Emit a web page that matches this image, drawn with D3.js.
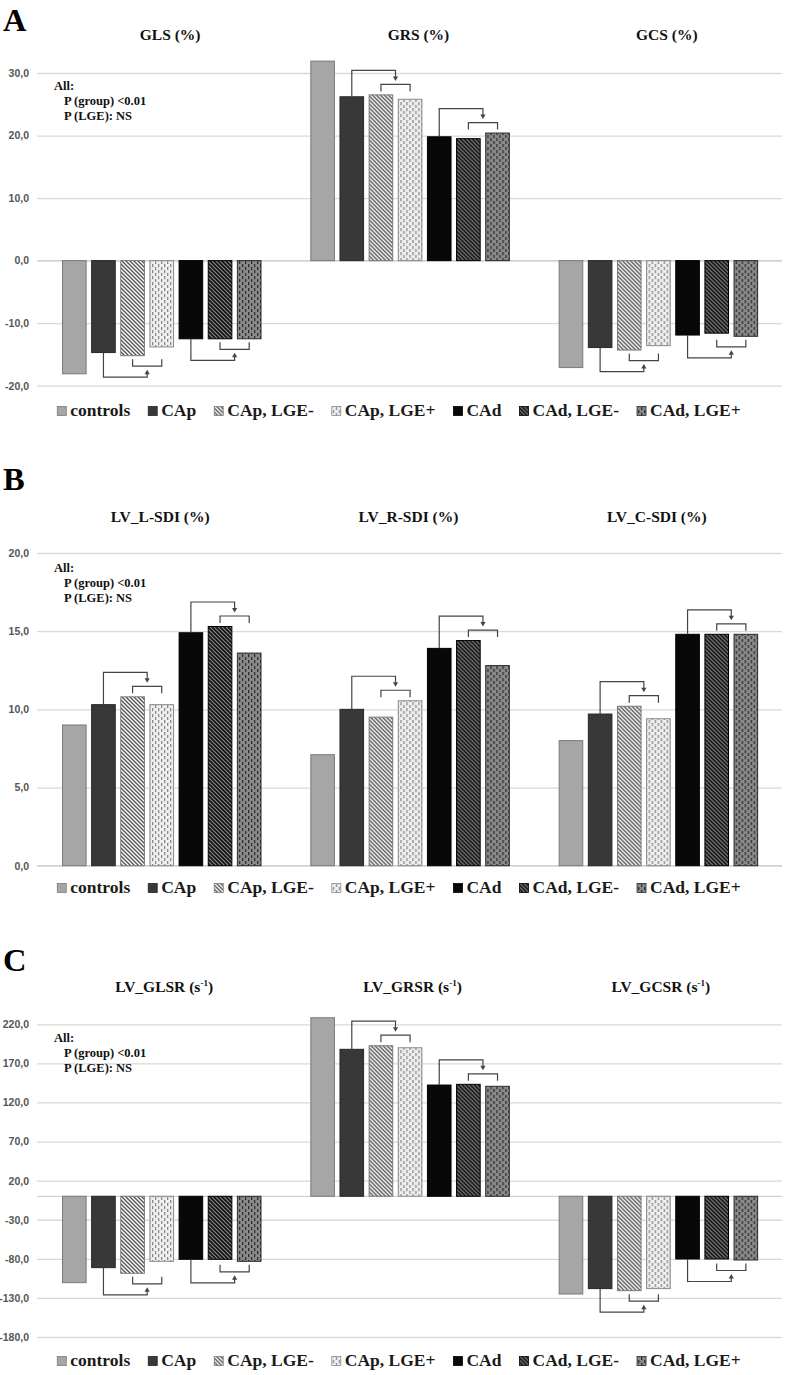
<!DOCTYPE html>
<html><head><meta charset="utf-8">
<script src="https://cdn.jsdelivr.net/npm/d3@7"></script>
<style>body{margin:0;background:#fff} svg{display:block}</style>
</head><body>
<svg id="chart" width="787" height="1375"></svg>
<script>
// ---------------- DATA ----------------
const groups = ["controls", "CAp", "CAp, LGE-", "CAp, LGE+", "CAd", "CAd, LGE-", "CAd, LGE+"];

// Panel A – global strain (%)
const strainTitles = ["GLS (%)", "GRS (%)", "GCS (%)"];
const strainGLS = [-18.1, -14.7, -15.2, -13.8, -12.5, -12.5, -12.5];
const strainGRS = [31.9, 26.2, 26.5, 25.8, 19.8, 19.5, 20.4];
const strainGCS = [-17.1, -13.9, -14.3, -13.6, -11.9, -11.6, -12.1];
const strainTicks = [-20, -10, 0, 10, 20, 30];

// Panel B – strain dispersion index (%)
const sdiTitles = ["LV_L-SDI (%)", "LV_R-SDI (%)", "LV_C-SDI (%)"];
const sdiL = [9.0, 10.3, 10.8, 10.3, 14.9, 15.3, 13.6];
const sdiR = [7.1, 10.0, 9.5, 10.55, 13.9, 14.4, 12.8];
const sdiC = [8.0, 9.7, 10.2, 9.4, 14.8, 14.8, 14.8];
const sdiTicks = [0, 5, 10, 15, 20];

// Panel C – global strain rate (s-1)
const srTitles = ["LV_GLSR", "LV_GRSR", "LV_GCSR"];
const srUnit = ["(s", "-1", ")"];
const srGLSR = [-110.5, -91.3, -98.5, -83.2, -80.6, -80.6, -83.2];
const srGRSR = [228.4, 188.0, 192.6, 190.0, 142.3, 143.2, 140.7];
const srGCSR = [-125.0, -118.1, -120.7, -118.1, -80.2, -80.2, -81.5];
const srTicks = [-180, -130, -80, -30, 20, 70, 120, 170, 220];

const panelLetters = ["A", "B", "C"];
const statsLines = ["All:", "P (group) <0.01", "P (LGE): NS"];
const bracketSets = [
  { parent: "CAp", children: ["CAp, LGE-", "CAp, LGE+"] },
  { parent: "CAd", children: ["CAd, LGE-", "CAd, LGE+"] }
];

const panelData = [
  { titles: strainTitles, series: [strainGLS, strainGRS, strainGCS], ticks: strainTicks, unit: null },
  { titles: sdiTitles, series: [sdiL, sdiR, sdiC], ticks: sdiTicks, unit: null },
  { titles: srTitles, series: [srGLSR, srGRSR, srGCSR], ticks: srTicks, unit: srUnit }
];

// ---------------- LAYOUT / STYLE ----------------
const plotLeft = 37, plotRight = 782;
const layouts = [
  { letterY: 30.5, titleY: 40, titleDx: 9, top: 73, bottom: 385.7, statsY: 90, legendY: 416 },
  { letterY: 490, titleY: 522, titleDx: -1, top: 553, bottom: 865.7, statsY: 572, legendY: 893 },
  { letterY: 971, titleY: 992, titleDx: 3, top: 1024.3, bottom: 1337, statsY: 1042, legendY: 1366 }
];
const serif = "'Liberation Serif', 'Times New Roman', 'DejaVu Serif', serif";
const sansTick = "'Liberation Sans Narrow', 'Liberation Sans', Arial, sans-serif";

const svg = d3.select("#chart");
const defs = svg.append("defs");

function diagPattern(id, bg, fg, w) {
  const p = defs.append("pattern").attr("id", id).attr("patternUnits", "userSpaceOnUse")
    .attr("width", 4).attr("height", 4);
  p.append("rect").attr("width", 4).attr("height", 4).attr("fill", bg);
  p.append("path").attr("d", "M-1,-1L5,5M-2,2L2,6M2,-2L6,2")
    .attr("stroke", fg).attr("stroke-width", w).attr("fill", "none");
}
function dashPattern(id, bg, fg) {
  const p = defs.append("pattern").attr("id", id).attr("patternUnits", "userSpaceOnUse")
    .attr("width", 6).attr("height", 6);
  p.append("rect").attr("width", 6).attr("height", 6).attr("fill", bg);
  p.append("rect").attr("x", 1).attr("y", 0).attr("width", 1.3).attr("height", 3.2).attr("fill", fg);
  p.append("rect").attr("x", 4).attr("y", 3).attr("width", 1.3).attr("height", 3.2).attr("fill", fg);
}
diagPattern("pDiagLight", "#ffffff", "#555555", 1.4);
diagPattern("pDiagDark", "#8a8a8a", "#111111", 1.7);
dashPattern("pDashLight", "#eeeeee", "#8a8a8a");
dashPattern("pDashDark", "#8a8a8a", "#2c2c2c");

const groupFill = ["#a6a6a6", "#383838", "url(#pDiagLight)", "url(#pDashLight)", "#080808", "url(#pDiagDark)", "url(#pDashDark)"];
const groupStroke = ["#7a7a7a", "#262626", "#7a7a7a", "#8a8a8a", "#000000", "#000000", "#2a2a2a"];

const fmt = v => d3.format(".1f")(v).replace(".", ",").replace("\u2212", "-");

// ---------------- DRAW ----------------
panelData.forEach((pd, pi) => {
  const L = layouts[pi];
  const g = svg.append("g");
  const y = d3.scaleLinear().domain(d3.extent(pd.ticks)).range([L.bottom, L.top]);
  const x0 = d3.scaleBand().domain(pd.titles).range([plotLeft, plotRight]);
  const x1 = d3.scaleBand().domain(groups).range([25.5, 224]).paddingInner(0.19);

  // axis + gridlines
  const ax = g.append("g").attr("transform", `translate(${plotLeft},0)`)
    .call(d3.axisLeft(y).tickValues(pd.ticks).tickSizeInner(-(plotRight - plotLeft))
      .tickSizeOuter(0).tickPadding(8).tickFormat(fmt));
  ax.select(".domain").remove();
  ax.attr("font-family", sansTick).attr("font-size", 10.5).attr("font-weight", "bold");
  ax.selectAll("line").attr("stroke", "#d9d9d9").attr("stroke-width", 1.3);
  ax.selectAll("text").attr("fill", "#555555");
  g.append("line").attr("x1", plotLeft).attr("x2", plotRight).attr("y1", y(0)).attr("y2", y(0))
    .attr("stroke", "#d2d2d2").attr("stroke-width", 1.3);

  // panel letter
  g.append("text").attr("x", 3).attr("y", L.letterY).text(panelLetters[pi])
    .attr("font-family", serif).attr("font-weight", "bold").attr("font-size", 32.5).attr("fill", "#000");

  // titles
  pd.titles.forEach(t => {
    const tx = g.append("text").attr("x", x0(t) + x0.bandwidth() / 2 + L.titleDx).attr("y", L.titleY)
      .attr("text-anchor", "middle").attr("font-family", serif).attr("font-weight", "bold")
      .attr("font-size", 15.5).attr("fill", "#111");
    if (pd.unit) {
      tx.append("tspan").text(t + " " + pd.unit[0]);
      tx.append("tspan").text(pd.unit[1]).attr("font-size", 9).attr("dy", -6);
      tx.append("tspan").text(pd.unit[2]).attr("dy", 6);
    } else {
      tx.text(t);
    }
  });

  // stats annotation
  statsLines.forEach((s, i) => {
    g.append("text").attr("x", i === 0 ? 54 : 64).attr("y", L.statsY + i * 15).text(s)
      .attr("font-family", serif).attr("font-weight", "bold").attr("font-size", 12.5).attr("fill", "#111");
  });

  // bars
  pd.titles.forEach((t, ci) => {
    const vals = pd.series[ci];
    const cg = g.append("g").attr("transform", `translate(${x0(t)},0)`);
    cg.selectAll("rect").data(groups).join("rect")
      .attr("x", d => x1(d)).attr("width", x1.bandwidth())
      .attr("y", (d, i) => Math.min(y(vals[i]), y(0)))
      .attr("height", (d, i) => Math.abs(y(vals[i]) - y(0)))
      .attr("fill", (d, i) => groupFill[i]).attr("stroke", (d, i) => groupStroke[i]).attr("stroke-width", 1);

    // brackets
    const cx = name => x1(name) + x1.bandwidth() / 2;
    bracketSets.forEach(set => {
      const ip = groups.indexOf(set.parent);
      const ic = set.children.map(c => groups.indexOf(c));
      const s = vals[ip] >= 0 ? -1 : 1; // pixel direction away from the bar ends
      const ends = ic.map(i => y(vals[i]));
      const ext = s < 0 ? Math.min(...ends) : Math.max(...ends);
      const tickStart = ext + s * 3.5;
      const innerH = ext + s * 10.5;
      const outerH = innerH + s * (s < 0 ? 14 : 11);
      const xa = cx(set.children[0]), xb = cx(set.children[1]);
      const xm = (xa + xb) / 2, xp = cx(set.parent);
      const tip = innerH + s * 3.5;
      const col = "#444";
      cg.append("path").attr("d", `M${xa},${tickStart}V${innerH}H${xb}V${tickStart}`)
        .attr("fill", "none").attr("stroke", col).attr("stroke-width", 1.2);
      cg.append("path").attr("d", `M${xp},${y(vals[ip])}V${outerH}H${xm}V${tip + s * 4}`)
        .attr("fill", "none").attr("stroke", col).attr("stroke-width", 1.2);
      cg.append("path").attr("d", `M${xm},${tip}L${xm - 2.6},${tip + s * 4.5}L${xm + 2.6},${tip + s * 4.5}Z`)
        .attr("fill", col);
    });
  });

  // legend
  const lg = g.append("g");
  const items = lg.selectAll("g").data(groups).join("g");
  items.append("rect").attr("x", 0).attr("y", -9.5).attr("width", 9).attr("height", 9)
    .attr("fill", (d, i) => groupFill[i]).attr("stroke", (d, i) => groupStroke[i]).attr("stroke-width", 0.8);
  const texts = items.append("text").attr("x", 13).attr("y", 0).text(d => d)
    .attr("font-family", serif).attr("font-weight", "bold").attr("font-size", 17.5).attr("fill", "#1a1a1a");
  const widths = texts.nodes().map(n => 13 + n.getComputedTextLength());
  const gap = 18;
  const total = d3.sum(widths) + gap * (widths.length - 1);
  let cur = 399 - total / 2;
  items.attr("transform", (d, i) => {
    const xx = cur; cur += widths[i] + gap;
    return `translate(${xx},${L.legendY})`;
  });
});
</script>
</body></html>
